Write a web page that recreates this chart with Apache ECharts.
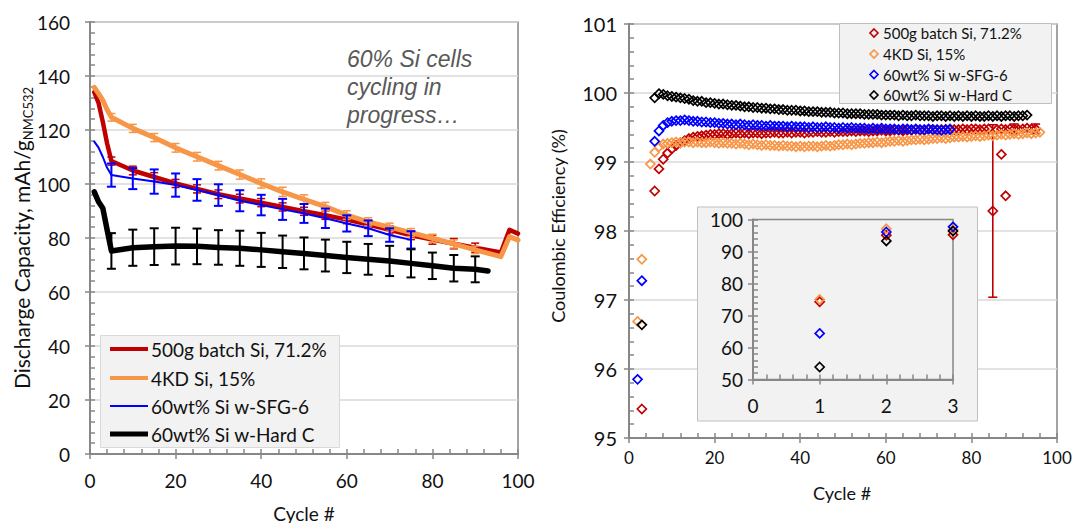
<!DOCTYPE html>
<html>
<head>
<meta charset="utf-8">
<script src="https://cdn.jsdelivr.net/npm/echarts@6/dist/echarts.min.js"></script>
<style>
  html, body { margin: 0; padding: 0; background: #ffffff; }
  #chart { width: 1077px; height: 523px; }
</style>
</head>
<body>
<div id="chart"></div>
<script>
// ---------- series labels ----------
const seriesNames = ['500g batch Si, 71.2%', '4KD Si, 15%', '60wt% Si w-SFG-6', '60wt% Si w-Hard C'];

// ---------- discharge capacity (mAh/g NMC532) vs cycle ----------
const redCapCycles = [1, 2, 3, 4, 5, 10, 15, 20, 25, 30, 35, 40, 45, 50, 55, 60, 65, 70, 75, 80, 85, 90, 96, 98, 100];
const redCap = [134.0, 130.0, 123.0, 115.0, 108.5, 105.0, 102.6, 100.2, 98.2, 96.2, 94.6, 93.1, 91.5, 89.9, 88.4, 86.8, 85.0, 83.0, 81.0, 79.4, 77.9, 76.4, 74.6, 83.0, 81.6];

const orangeCapCycles = [1, 2, 3, 4, 5, 10, 15, 20, 25, 30, 35, 40, 45, 50, 55, 60, 65, 70, 75, 80, 85, 90, 96, 98, 100];
const orangeCap = [135.8, 133.5, 131.0, 127.5, 124.7, 120.6, 117.2, 113.4, 110.1, 106.8, 103.5, 100.2, 97.1, 94.3, 91.6, 88.5, 86.0, 84.0, 82.0, 79.9, 77.8, 75.6, 73.1, 80.5, 79.2];

const blueCapCycles = [1, 2, 3, 4, 5, 10, 15, 20, 25, 30, 35, 40, 45, 50, 55, 60, 65, 70, 75];
const blueCap = [115.7, 113.5, 110.0, 106.0, 103.3, 102.0, 100.9, 99.6, 97.8, 95.9, 93.8, 92.2, 90.6, 89.1, 87.3, 85.4, 83.6, 81.1, 79.3];

const blackCapCycles = [1, 2, 3, 4, 5, 10, 15, 20, 25, 30, 35, 40, 45, 50, 55, 60, 65, 70, 75, 80, 85, 90, 93];
const blackCap = [97.1, 93.4, 91.0, 83.0, 75.2, 76.4, 76.8, 77.0, 76.9, 76.5, 76.2, 75.6, 74.9, 74.3, 73.5, 72.8, 72.1, 71.5, 70.6, 69.7, 68.8, 68.4, 67.8];

// standard deviation bars on the capacity curves
const redErrCycles = [5, 10, 15, 20, 25, 30, 35, 40, 45, 50, 55, 60, 65, 70, 75, 80, 85, 90];
const redErr = [1.5, 1.6, 1.6, 1.5, 1.5, 1.6, 1.6, 1.5, 1.5, 1.5, 1.5, 1.5, 1.5, 1.5, 1.6, 1.7, 1.9, 1.7];
const orangeErrCycles = [5, 10, 15, 20, 25, 30, 35, 40, 45, 50, 55, 60, 65, 70, 75, 80, 85, 90];
const orangeErr = [1.4, 1.5, 1.5, 1.6, 1.6, 1.6, 1.7, 1.7, 1.7, 1.7, 1.6, 1.6, 1.5, 1.5, 1.5, 1.5, 1.5, 1.4];
const blueErrCycles = [5, 10, 15, 20, 25, 30, 35, 40, 45, 50, 55, 60, 65, 70, 75];
const blueErr = [4.3, 3.9, 4.5, 4.3, 4.0, 4.0, 3.9, 3.8, 3.9, 3.5, 3.6, 3.0, 2.9, 2.5, 3.2];
const blackErrCycles = [5, 10, 15, 20, 25, 30, 35, 40, 45, 50, 55, 60, 65, 70, 75, 80, 85, 90];
const blackErr = [6.6, 6.7, 6.8, 6.8, 6.6, 6.4, 6.5, 6.3, 6.0, 5.9, 5.9, 5.8, 5.7, 5.6, 5.2, 4.9, 4.9, 4.8];

// ---------- coulombic efficiency (%) vs cycle ----------
const ceCycles = [
  1, 2, 3, 4, 5, 6, 7, 8, 9, 10, 11, 12, 13, 14, 15, 16, 17, 18, 19, 20,
  21, 22, 23, 24, 25, 26, 27, 28, 29, 30, 31, 32, 33, 34, 35, 36, 37, 38, 39, 40,
  41, 42, 43, 44, 45, 46, 47, 48, 49, 50, 51, 52, 53, 54, 55, 56, 57, 58, 59, 60,
  61, 62, 63, 64, 65, 66, 67, 68, 69, 70, 71, 72, 73, 74, 75, 76, 77, 78, 79, 80,
  81, 82, 83, 84, 85, 86, 87, 88, 89, 90, 91, 92, 93, 94, 95, 96
];
const redCE = [
  null, null, 95.42, null, null, 98.58, 98.90, 99.04, 99.13, 99.19, 99.24, 99.28, 99.31, 99.34, 99.36, 99.37, 99.38, 99.39, 99.40, 99.40,
  99.41, 99.41, 99.40, 99.41, 99.42, 99.41, 99.42, 99.41, 99.42, 99.42, 99.41, 99.42, 99.42, 99.43, 99.42, 99.42, 99.43, 99.42, 99.43, 99.43,
  99.42, 99.43, 99.43, 99.44, 99.43, 99.43, 99.44, 99.43, 99.44, 99.44, 99.44, 99.45, 99.44, 99.45, 99.45, 99.44, 99.45, 99.45, 99.46, 99.45,
  99.45, 99.46, 99.46, 99.45, 99.46, 99.46, 99.47, 99.46, 99.46, 99.47, 99.47, 99.46, 99.47, 99.47, 99.48, 99.47, 99.47, 99.48, 99.47, 99.48,
  99.48, 99.47, 99.48, 99.48, 98.29, 99.47, 99.48, 99.47, 99.48, 99.48, 99.47, 99.48, 99.49, 99.48, 99.48, null
];
const redExtraCycles = [87, 88];
const redExtraCE = [99.11, 98.51];
const orangeCE = [
  null, 96.69, 97.59, null, 98.97, 99.14, 99.22, 99.26, 99.27, 99.28, 99.29, 99.28, 99.29, 99.29, 99.28, 99.29, 99.28, 99.28, 99.29, 99.28,
  99.27, 99.28, 99.27, 99.27, 99.26, 99.27, 99.26, 99.25, 99.26, 99.25, 99.24, 99.25, 99.24, 99.24, 99.23, 99.24, 99.23, 99.23, 99.22, 99.23,
  99.22, 99.23, 99.23, 99.22, 99.23, 99.24, 99.23, 99.24, 99.25, 99.25, 99.26, 99.25, 99.26, 99.27, 99.27, 99.28, 99.28, 99.29, 99.28, 99.29,
  99.30, 99.30, 99.31, 99.30, 99.31, 99.32, 99.32, 99.33, 99.32, 99.33, 99.34, 99.34, 99.35, 99.34, 99.35, 99.36, 99.36, 99.37, 99.36, 99.37,
  99.38, 99.37, 99.38, 99.39, 99.38, 99.39, 99.40, 99.39, 99.40, 99.41, 99.40, 99.41, 99.42, 99.41, 99.42, 99.43
];
const blueCE = [
  null, 95.85, 97.28, null, null, 99.30, 99.45, 99.53, 99.57, 99.59, 99.60, 99.60, 99.61, 99.60, 99.59, 99.59, 99.58, 99.58, 99.57, 99.57,
  99.56, 99.56, 99.55, 99.55, 99.54, 99.55, 99.54, 99.53, 99.54, 99.53, 99.53, 99.52, 99.53, 99.52, 99.52, 99.52, 99.51, 99.52, 99.51, 99.51,
  99.51, 99.50, 99.51, 99.50, 99.50, 99.51, 99.50, 99.50, 99.49, 99.50, 99.49, 99.50, 99.49, 99.49, 99.49, 99.48, 99.49, 99.48, 99.49, 99.48,
  99.48, 99.48, 99.47, 99.48, 99.48, 99.47, 99.48, 99.47, 99.47, 99.48, 99.47, 99.47, 99.46, 99.47, 99.47, null, null, null, null, null,
  null, null, null, null, null, null, null, null, null, null, null, null, null, null, null, null
];
const blackCE = [
  null, null, 96.64, null, null, 99.93, 99.99, 99.98, 99.96, 99.95, 99.94, 99.93, 99.92, 99.91, 99.89, 99.88, 99.88, 99.86, 99.86, 99.85,
  99.84, 99.84, 99.83, 99.82, 99.82, 99.81, 99.80, 99.80, 99.79, 99.79, 99.78, 99.78, 99.77, 99.77, 99.76, 99.76, 99.75, 99.75, 99.75, 99.74,
  99.74, 99.73, 99.73, 99.73, 99.72, 99.72, 99.72, 99.71, 99.71, 99.71, 99.70, 99.70, 99.70, 99.70, 99.69, 99.69, 99.69, 99.69, 99.68, 99.68,
  99.68, 99.68, 99.67, 99.68, 99.67, 99.67, 99.68, 99.67, 99.67, 99.67, 99.66, 99.67, 99.67, 99.66, 99.67, 99.66, 99.67, 99.66, 99.67, 99.66,
  99.67, 99.66, 99.66, 99.67, 99.66, 99.67, 99.66, 99.67, 99.67, 99.66, 99.67, 99.67, 99.68, null, null, null
];
const redCEErrCycles = [85, 90, 95];
const redCEErr = [1.25, 0.07, 0.07];

// first three cycles (inset)
const firstCycles = [1, 2, 3];
const redFirst = [74.3, 95.1, 95.2];
const orangeFirst = [75.0, 97.1, 96.8];
const blueFirst = [64.4, 96.1, 97.7];
const blackFirst = [53.9, 93.3, 96.4];

// ---------- styling ----------
const FONT = 'Lato';
const INK = '#111111';
const AXIS = '#878787';
const GRIDLINE = '#d9d9d9';
const COLORS = ['#c00000', '#f79646', '#0000ff', '#000000'];

const pairs = (xs, ys) => xs.map((x, i) => [x, ys[i]]).filter(p => p[1] != null);
function errRows(errCycles, errs, cycles, vals) {
  return errCycles.map((c, i) => [c, vals[cycles.indexOf(c)], errs[i]]);
}

function axisPair(gridIndex, min, max, interval, position, o) {
  const base = { gridIndex, type: 'value', min, max, interval, position, z: o.z || 0 };
  const main = Object.assign({}, base, {
    axisLine: { show: true, onZero: false, lineStyle: { color: AXIS, width: 2 } },
    axisTick: { show: true, inside: false, length: 5, lineStyle: { color: AXIS, width: 1.5 } },
    minorTick: { show: false },
    axisLabel: { show: true, margin: o.margin, fontSize: o.fontSize, fontFamily: FONT, color: INK, showMinLabel: true, showMaxLabel: true },
    splitLine: { show: !!o.split, lineStyle: { color: GRIDLINE, width: 1.5 } }
  });
  const inner = Object.assign({}, base, {
    axisLine: { show: false, onZero: false },
    axisLabel: { show: false },
    splitLine: { show: false },
    axisTick: { show: true, inside: true, length: 5, lineStyle: { color: AXIS, width: 1.5 } },
    minorTick: { show: true, splitNumber: 5, length: 5, lineStyle: { color: AXIS, width: 1.5 } }
  });
  return [main, inner];
}

function errorBars(rows, color, width, halfCap, xi, yi, z) {
  return {
    type: 'custom', xAxisIndex: xi, yAxisIndex: yi, z, silent: true,
    data: rows, encode: { x: 0, y: 1 },
    renderItem(params, api) {
      const x = api.value(0), c = api.value(1), e = api.value(2);
      const hi = api.coord([x, c + e]), lo = api.coord([x, c - e]);
      const st = { stroke: color, lineWidth: width };
      return { type: 'group', children: [
        { type: 'line', shape: { x1: hi[0], y1: hi[1], x2: lo[0], y2: lo[1] }, style: st },
        { type: 'line', shape: { x1: hi[0] - halfCap, y1: hi[1], x2: hi[0] + halfCap, y2: hi[1] }, style: st },
        { type: 'line', shape: { x1: lo[0] - halfCap, y1: lo[1], x2: lo[0] + halfCap, y2: lo[1] }, style: st }
      ] };
    }
  };
}

function capLine(idx, cycles, vals, width, z) {
  return {
    type: 'line', name: seriesNames[idx], xAxisIndex: 0, yAxisIndex: 0, z, silent: true,
    data: pairs(cycles, vals), showSymbol: false, symbol: 'none',
    lineStyle: { color: COLORS[idx], width, cap: 'round', join: 'round' }
  };
}

function ceScatter(idx, points, xi, yi, z) {
  return {
    type: 'scatter', name: seriesNames[idx], xAxisIndex: xi, yAxisIndex: yi, z, silent: true,
    data: points, symbol: 'diamond', symbolSize: 9,
    itemStyle: { color: 'rgba(255,255,255,0)', borderColor: COLORS[idx], borderWidth: 1.7, opacity: 1 }
  };
}

const [xCap, xCapIn] = axisPair(0, 0, 100, 20, 'bottom', { margin: 17, fontSize: 19 });
const [xCE, xCEIn] = axisPair(1, 0, 100, 20, 'bottom', { margin: 11, fontSize: 17 });
const [xIns, xInsIn] = axisPair(2, 0, 3, 1, 'bottom', { margin: 16, fontSize: 19, z: 6 });
const [yCap, yCapIn] = axisPair(0, 0, 160, 20, 'left', { margin: 20, fontSize: 19, split: true });
const [yCE, yCEIn] = axisPair(1, 95, 101, 1, 'left', { margin: 12, fontSize: 20, split: true });
const [yIns, yInsIn] = axisPair(2, 50, 100, 10, 'left', { margin: 10, fontSize: 19, z: 6 });

// ---------- legends, titles, notes ----------
const legendCapRows = [349, 378, 406, 434];
const legendCapWidths = [4, 4, 2, 5];
const legendCERows = [33, 54, 74.5, 95];

const graphics = [];
// inset panel background (sits above the main efficiency plot)
graphics.push({ type: 'rect', z: 5, silent: true, shape: { x: 697.5, y: 207, width: 280, height: 214 },
  style: { fill: '#f2f2f2', stroke: '#bfbfbf', lineWidth: 1 } });

// capacity legend
graphics.push({ type: 'rect', z: 20, silent: true, shape: { x: 100.5, y: 335.5, width: 239, height: 112 },
  style: { fill: '#f2f2f2', stroke: '#d9d9d9', lineWidth: 1 } });
seriesNames.forEach((n, i) => {
  graphics.push({ type: 'line', z: 21, silent: true,
    shape: { x1: 110, y1: legendCapRows[i], x2: 148, y2: legendCapRows[i] },
    style: { stroke: COLORS[i], lineWidth: legendCapWidths[i] } });
  graphics.push({ type: 'text', z: 21, silent: true, x: 151, y: legendCapRows[i],
    style: { text: n, fontSize: 19, fontFamily: FONT, fill: INK, textVerticalAlign: 'middle', verticalAlign: 'middle' } });
});

// efficiency legend
graphics.push({ type: 'rect', z: 20, silent: true, shape: { x: 839.5, y: 23.5, width: 212, height: 80 },
  style: { fill: '#f2f2f2', stroke: '#bfbfbf', lineWidth: 1 } });
seriesNames.forEach((n, i) => {
  const cx = 874, cy = legendCERows[i];
  graphics.push({ type: 'polygon', z: 21, silent: true,
    shape: { points: [[cx, cy - 4], [cx + 4, cy], [cx, cy + 4], [cx - 4, cy]] },
    style: { fill: 'none', stroke: COLORS[i], lineWidth: 1.6 } });
  graphics.push({ type: 'text', z: 21, silent: true, x: 883, y: cy,
    style: { text: n, fontSize: 15, fontFamily: FONT, fill: INK, textVerticalAlign: 'middle', verticalAlign: 'middle' } });
});

// axis titles
graphics.push({ type: 'text', z: 10, silent: true, x: 21, y: 238, rotation: Math.PI / 2,
  style: {
    text: '{a|Discharge Capacity, mAh/g}{b|NMC532}',
    rich: {
      a: { fontSize: 21, fontFamily: FONT, fill: INK, color: INK, lineHeight: 26 },
      b: { fontSize: 13, fontFamily: FONT, fill: INK, color: INK, lineHeight: 14, verticalAlign: 'bottom' }
    },
    align: 'center', textAlign: 'center', verticalAlign: 'middle', textVerticalAlign: 'middle'
  } });
graphics.push({ type: 'text', z: 10, silent: true, x: 558, y: 226, rotation: Math.PI / 2,
  style: { text: 'Coulombic Efficiency (%)', fontSize: 18, fontFamily: FONT, fill: INK,
    align: 'center', textAlign: 'center', verticalAlign: 'middle', textVerticalAlign: 'middle' } });
graphics.push({ type: 'text', z: 10, silent: true, x: 304, y: 513,
  style: { text: 'Cycle #', fontSize: 19, fontFamily: FONT, fill: INK,
    align: 'center', textAlign: 'center', verticalAlign: 'middle', textVerticalAlign: 'middle' } });
graphics.push({ type: 'text', z: 10, silent: true, x: 842, y: 493,
  style: { text: 'Cycle #', fontSize: 18, fontFamily: FONT, fill: INK,
    align: 'center', textAlign: 'center', verticalAlign: 'middle', textVerticalAlign: 'middle' } });

// status note on the capacity plot
graphics.push({ type: 'text', z: 10, silent: true, x: 347, y: 45,
  style: { text: '60% Si cells\ncycling in\nprogress…', fontSize: 23, fontStyle: 'italic',
    fontFamily: 'Liberation Sans', fill: '#595959', lineHeight: 28,
    verticalAlign: 'top', textVerticalAlign: 'top' } });

// ---------- series ----------
const series = [
  capLine(0, redCapCycles, redCap, 4.5, 2),
  errorBars(errRows(redErrCycles, redErr, redCapCycles, redCap), COLORS[0], 1.5, 4, 0, 0, 2),
  capLine(1, orangeCapCycles, orangeCap, 5, 3),
  errorBars(errRows(orangeErrCycles, orangeErr, orangeCapCycles, orangeCap), COLORS[1], 1.5, 4, 0, 0, 3),
  capLine(2, blueCapCycles, blueCap, 2, 4),
  errorBars(errRows(blueErrCycles, blueErr, blueCapCycles, blueCap), COLORS[2], 2, 4.5, 0, 0, 4),
  capLine(3, blackCapCycles, blackCap, 5.5, 5),
  errorBars(errRows(blackErrCycles, blackErr, blackCapCycles, blackCap), COLORS[3], 2, 4.5, 0, 0, 5),

  errorBars(errRows(redCEErrCycles, redCEErr, ceCycles, redCE), COLORS[0], 1.6, 4.5, 2, 2, 2),
  ceScatter(0, pairs(ceCycles, redCE).concat(pairs(redExtraCycles, redExtraCE)), 2, 2, 2),
  ceScatter(1, pairs(ceCycles, orangeCE), 2, 2, 3),
  ceScatter(2, pairs(ceCycles, blueCE), 2, 2, 3),
  ceScatter(3, pairs(ceCycles, blackCE), 2, 2, 4),

  ceScatter(0, pairs(firstCycles, redFirst), 4, 4, 7),
  ceScatter(1, pairs(firstCycles, orangeFirst), 4, 4, 8),
  ceScatter(2, pairs(firstCycles, blueFirst), 4, 4, 9),
  ceScatter(3, pairs(firstCycles, blackFirst), 4, 4, 10)
];

const chart = echarts.init(document.getElementById('chart'), null, { renderer: 'svg' });
chart.setOption({
  animation: false,
  backgroundColor: '#ffffff',
  textStyle: { fontFamily: FONT },
  grid: [
    { left: 90, top: 22, width: 428, height: 432, show: true, borderColor: AXIS, borderWidth: 1.5, backgroundColor: 'rgba(0,0,0,0)', outerBoundsMode: 'none', containLabel: false },
    { left: 629, top: 24, width: 428, height: 414, show: true, borderColor: AXIS, borderWidth: 1.5, backgroundColor: 'rgba(0,0,0,0)', outerBoundsMode: 'none', containLabel: false },
    { left: 753, top: 219.5, width: 200, height: 160, show: true, borderColor: AXIS, borderWidth: 1.5, backgroundColor: 'rgba(0,0,0,0)', z: 6, outerBoundsMode: 'none', containLabel: false }
  ],
  xAxis: [xCap, xCapIn, xCE, xCEIn, xIns, xInsIn],
  yAxis: [yCap, yCapIn, yCE, yCEIn, yIns, yInsIn],
  graphic: graphics,
  series
});
</script>
</body>
</html>
